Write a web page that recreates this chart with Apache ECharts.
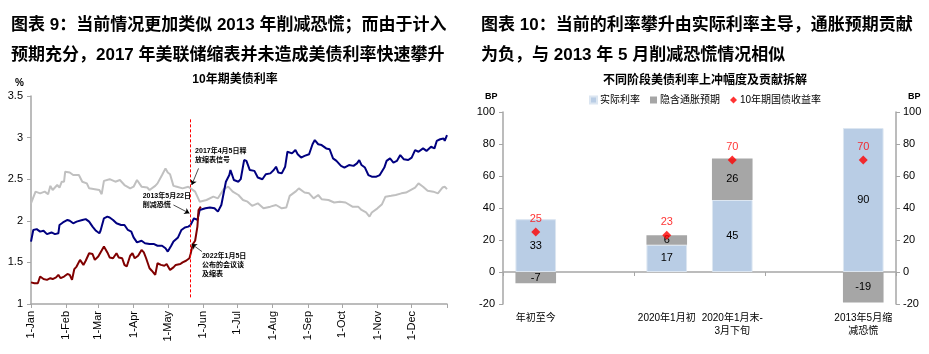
<!DOCTYPE html>
<html><head><meta charset="utf-8">
<script src="https://cdn.jsdelivr.net/npm/echarts@6/dist/echarts.min.js"></script>
<style>html,body{margin:0;padding:0;background:#fff}#c{width:929px;height:354px}</style>
</head><body><div id="c"></div>
<script>
// ---------- Left chart: 10Y UST yield paths (aligned by event) ----------
const monthNames = ['Jan','Feb','Mar','Apr','May','Jun','Jul','Aug','Sep','Oct','Nov','Dec'];
const monthDays = [31,28,31,30,31,30,31,31,30,31,30,31];

// 2017 (gray)
const days2017 = [0,4,8,12,15,17,19,23,25,27,29,30,34,37,42,45,49,51,56,60,62,64,69,74,78,82,87,90,93,97,102,104,109,111,115,118,120,122,125,128,133,138,140,144,148,154,160,164,169,173,177,182,186,190,194,199,204,210,215,220,224,227,232,235,240,244,248,252,255,261,266,271,276,282,287,290,294,297,299,304,308,311,316,320,325,329,333,337,340,344,348,353,357,361,363,365];
const yield2017 = [2.21,2.35,2.33,2.35,2.32,2.42,2.37,2.43,2.40,2.47,2.47,2.59,2.58,2.55,2.55,2.47,2.45,2.39,2.38,2.37,2.32,2.48,2.50,2.47,2.49,2.43,2.39,2.41,2.49,2.41,2.40,2.37,2.42,2.45,2.55,2.63,2.58,2.56,2.42,2.41,2.39,2.41,2.39,2.35,2.23,2.25,2.29,2.27,2.38,2.41,2.35,2.31,2.25,2.23,2.18,2.21,2.15,2.17,2.19,2.15,2.16,2.30,2.35,2.39,2.34,2.33,2.27,2.31,2.26,2.25,2.22,2.23,2.22,2.17,2.17,2.13,2.10,2.05,2.10,2.15,2.20,2.29,2.30,2.31,2.33,2.34,2.37,2.40,2.45,2.41,2.36,2.35,2.33,2.40,2.41,2.38];

// 2013 (navy)
const days2013 = [0,2,5,8,11,14,18,21,24,25,28,32,34,37,40,45,48,51,54,57,60,61,64,67,69,72,75,79,82,85,88,90,93,97,100,104,108,111,115,118,120,123,125,129,132,135,138,140,141,143,146,148,153,157,161,164,167,168,171,174,175,178,182,184,187,189,192,196,199,203,206,210,213,215,217,220,223,225,229,232,234,237,240,244,247,249,252,255,259,262,265,268,272,275,279,283,286,288,290,293,296,299,303,306,310,312,315,318,321,324,327,331,334,337,340,344,347,351,354,356,359,362,363,365];
const yield2013 = [1.75,1.89,1.90,1.87,1.88,1.84,1.86,1.84,1.85,1.95,1.98,2.01,2.00,1.97,1.99,2.01,2.02,1.99,1.93,1.88,1.85,1.88,2.03,2.05,2.04,2.01,1.97,1.95,1.95,1.89,1.87,1.80,1.74,1.76,1.73,1.72,1.72,1.70,1.70,1.67,1.63,1.70,1.75,1.80,1.89,1.92,1.93,1.95,1.97,2.03,2.01,2.13,2.15,2.16,2.15,2.11,2.19,2.21,2.47,2.55,2.61,2.49,2.47,2.50,2.73,2.72,2.61,2.60,2.52,2.50,2.56,2.57,2.61,2.65,2.58,2.57,2.65,2.83,2.81,2.85,2.80,2.76,2.78,2.80,2.92,2.97,2.92,2.91,2.87,2.86,2.75,2.72,2.66,2.64,2.67,2.66,2.69,2.73,2.67,2.64,2.55,2.53,2.53,2.55,2.64,2.72,2.75,2.70,2.72,2.79,2.74,2.73,2.76,2.85,2.83,2.87,2.84,2.89,2.87,2.96,2.98,2.99,2.96,3.03];

// 2022 (dark red)
const days2022 = [0,3,6,8,11,14,17,19,22,24,26,29,32,34,36,38,40,43,46,48,51,54,56,59,61,64,67,69,72,75,77,80,82,84,87,89,91,94,97,99,101,104,106,109,111,114,117,119,122,125,127,131,133,136,139,140,142,144,146,147,149];
const yield2022 = [1.26,1.25,1.25,1.33,1.30,1.29,1.31,1.30,1.32,1.35,1.31,1.33,1.36,1.35,1.29,1.42,1.45,1.53,1.47,1.52,1.61,1.60,1.53,1.57,1.62,1.69,1.62,1.56,1.55,1.61,1.56,1.55,1.47,1.45,1.58,1.61,1.55,1.58,1.65,1.62,1.55,1.43,1.40,1.35,1.49,1.47,1.46,1.48,1.41,1.44,1.47,1.48,1.50,1.52,1.55,1.60,1.72,1.76,1.93,2.13,2.17];

// ---------- Right chart: decomposition ----------
const stageCats = ['年初至今','','2020年1月初','2020年1月末-\n3月下旬','','2013年5月缩\n减恐慌'];
const realRate = [33,null,17,45,null,90];
const inflExp = [-7,null,6,26,null,-19];
const yield10y = [25,null,23,70,null,70];

// day categories
const dayLabels = [];
for (let m = 0; m < 12; m++) for (let d = 1; d <= monthDays[m]; d++) dayLabels.push(d + '-' + monthNames[m]);
dayLabels.push('1-Jan');

const zip = (a, b) => a.map((x, i) => [x, b[i]]);
const NUM = 'Liberation Sans, Arial, Noto Sans CJK SC';
const CJK = 'Liberation Sans, Noto Sans CJK SC';
const AX = '#a6a6a6';

const chart = echarts.init(document.getElementById('c'), null, {renderer: 'canvas'});
const noteStyle = {color: '#000', fontSize: 7, fontWeight: 'bold', fontFamily: CJK, lineHeight: 9, align: 'left', verticalAlign: 'top'};
function note(day, v, text) {
  return {coord: [day, v], symbol: 'circle', symbolSize: 0, itemStyle: {color: 'rgba(0,0,0,0)'},
    label: Object.assign({show: true, position: 'inside', offset: [0, 0], formatter: text}, noteStyle)};
}
const arrowLine = {color: '#000', width: 0.7, type: 'solid'};
function arrow(d1, v1, d2, v2) {
  return [{coord: [d1, v1], symbol: 'none', lineStyle: arrowLine}, {coord: [d2, v2], symbol: 'arrow', symbolSize: 5}];
}

chart.setOption({
  animation: false,
  textStyle: {fontFamily: CJK},
  title: [
    {text: '图表 9：当前情况更加类似 2013 年削减恐慌；而由于计入\n预期充分，2017 年美联储缩表并未造成美债利率快速攀升',
     left: 6, top: 5, textStyle: {fontSize: 17, fontWeight: 'bold', color: '#000', lineHeight: 30, fontFamily: CJK}},
    {text: '图表 10：当前的利率攀升由实际利率主导，通胀预期贡献\n为负，与 2013 年 5 月削减恐慌情况相似',
     left: 476, top: 5, textStyle: {fontSize: 17, fontWeight: 'bold', color: '#000', lineHeight: 30, fontFamily: CJK}},
    {text: '10年期美债利率', left: 230, textAlign: 'center', top: 69, textStyle: {fontSize: 12, fontWeight: 'bold', color: '#000', fontFamily: CJK}},
    {text: '%', left: 10, top: 73, textStyle: {fontSize: 10, fontWeight: 'bold', color: '#000', fontFamily: NUM}},
    {text: '不同阶段美债利率上冲幅度及贡献拆解', left: 700, textAlign: 'center', top: 70, textStyle: {fontSize: 12, fontWeight: 'bold', color: '#000', fontFamily: CJK}},
    {text: 'BP', left: 480, top: 87, textStyle: {fontSize: 9, fontWeight: 'bold', color: '#000', fontFamily: NUM}},
    {text: 'BP', left: 903, top: 87, textStyle: {fontSize: 9, fontWeight: 'bold', color: '#000', fontFamily: NUM}}
  ],
  legend: {
    data: [{name: '实际利率', icon: 'rect'}, {name: '隐含通胀预期', icon: 'rect'}, {name: '10年期国债收益率', icon: 'diamond'}],
    left: 584, top: 90, itemWidth: 7, itemHeight: 7, itemGap: 10,
    textStyle: {fontSize: 10, color: '#000', fontFamily: CJK, padding: [0, 0, 0, -2]}
  },
  grid: [
    {left: 31, right: 482, top: 96, bottom: 50},
    {left: 503, right: 33, top: 112, bottom: 50}
  ],
  xAxis: [
    {gridIndex: 0, type: 'category', data: dayLabels, boundaryGap: false,
     axisLine: {lineStyle: {color: AX, width: 1.5}},
     axisTick: {interval: (i, v) => v.startsWith('1-'), length: 4, lineStyle: {color: AX}},
     axisLabel: {interval: (i, v) => v.startsWith('1-') && i < 365, rotate: 90, fontSize: 11, color: '#000', margin: 7, fontFamily: NUM},
     splitLine: {show: false}},
    {gridIndex: 1, type: 'category', data: stageCats,
     axisLine: {onZero: true, lineStyle: {color: AX, width: 1.5}},
     axisTick: {show: true, length: 4, lineStyle: {color: AX}},
     axisLabel: {show: false}, splitLine: {show: false}},
    {gridIndex: 1, type: 'category', data: stageCats, position: 'bottom',
     axisLine: {show: false, onZero: false}, axisTick: {show: false},
     axisLabel: {interval: 0, fontSize: 10, color: '#000', margin: 8, lineHeight: 13, fontFamily: CJK}}
  ],
  yAxis: [
    {gridIndex: 0, type: 'value', min: 1, max: 3.5, interval: 0.5,
     axisLine: {show: true, lineStyle: {color: AX, width: 1.5}},
     axisTick: {show: true, length: 4, lineStyle: {color: AX}},
     axisLabel: {fontSize: 11, color: '#000', margin: 8, fontFamily: NUM},
     splitLine: {show: false}},
    {gridIndex: 1, type: 'value', min: -20, max: 100, interval: 20, position: 'left',
     axisLine: {show: true, lineStyle: {color: AX, width: 1.5}},
     axisTick: {show: true, length: 4, lineStyle: {color: AX}},
     axisLabel: {fontSize: 11, color: '#000', margin: 8, fontFamily: NUM},
     splitLine: {show: false}},
    {gridIndex: 1, type: 'value', min: -20, max: 100, interval: 20, position: 'right',
     axisLine: {show: true, lineStyle: {color: AX, width: 1.5}},
     axisTick: {show: true, length: 4, lineStyle: {color: AX}},
     axisLabel: {fontSize: 11, color: '#000', margin: 7, fontFamily: NUM},
     splitLine: {show: false}}
  ],
  series: [
    {name: '2017', type: 'line', xAxisIndex: 0, yAxisIndex: 0, data: zip(days2017, yield2017),
     showSymbol: false, lineStyle: {color: '#c0c0c0', width: 2}, itemStyle: {color: '#c0c0c0'}, z: 2,
     markLine: {silent: true, symbol: 'none', label: {show: false}, animation: false,
       data: [
         [{coord: [140, 1.08], lineStyle: {color: '#ff0000', type: [3, 2], width: 1}}, {coord: [140, 3.22]}],
         arrow(146.5, 2.63, 141.3, 2.43),
         arrow(124.6, 2.19, 138.6, 2.09),
         arrow(149.5, 1.63, 141.3, 1.72)
       ]},
     markPoint: {silent: true, animation: false,
       data: [
         note(144, 2.89, '2017年4月5日释\n放缩表信号'),
         note(98.3, 2.35, '2013年5月22日\n削减恐慌'),
         note(150, 1.63, '2022年1月5日\n公布的会议谈\n及缩表')
       ]}},
    {name: '2013', type: 'line', xAxisIndex: 0, yAxisIndex: 0, data: zip(days2013, yield2013),
     showSymbol: false, lineStyle: {color: '#000080', width: 2}, itemStyle: {color: '#000080'}, z: 3},
    {name: '2022', type: 'line', xAxisIndex: 0, yAxisIndex: 0, data: zip(days2022, yield2022),
     showSymbol: false, lineStyle: {color: '#800000', width: 2}, itemStyle: {color: '#800000'}, z: 4},

    {name: '实际利率', type: 'bar', xAxisIndex: 1, yAxisIndex: 1, stack: 'a', data: realRate, barWidth: '62%',
     itemStyle: {color: '#b9cde5', borderColor: '#dce6f1', borderWidth: 1},
     label: {show: true, position: 'inside', color: '#000', fontSize: 11, fontFamily: NUM}},
    {name: '隐含通胀预期', type: 'bar', xAxisIndex: 1, yAxisIndex: 1, stack: 'a', data: inflExp, barWidth: '62%',
     itemStyle: {color: '#a6a6a6'},
     label: {show: true, position: 'inside', color: '#000', fontSize: 11, fontFamily: NUM}},
    {name: '10年期国债收益率', type: 'scatter', xAxisIndex: 1, yAxisIndex: 1, data: yield10y,
     symbol: 'diamond', symbolSize: 9, itemStyle: {color: '#ff0000'}, z: 5,
     label: {show: true, position: 'top', distance: 3, color: '#ff0000', fontSize: 11, fontFamily: NUM}}
  ]
});
</script>
</body></html>
